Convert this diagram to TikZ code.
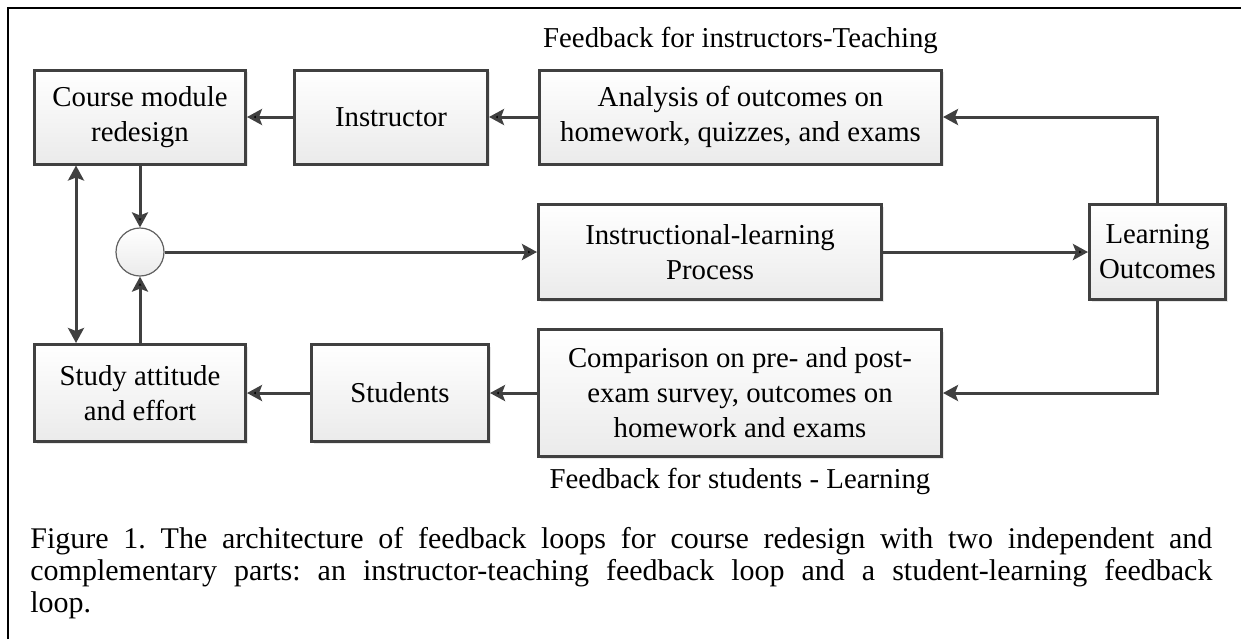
\documentclass[tikz,border=0pt]{standalone}
\usepackage{fontspec}
\setmainfont{Liberation Serif}
\usepackage{xcolor}
\usepackage{tikz}
\usetikzlibrary{shadows, arrows.meta, positioning}
\frenchspacing

\definecolor{linegray}{HTML}{404040}
\tikzset{
  block/.style={draw=linegray, line width=1.5pt, top color=white, bottom color=gray!16,
    align=center, inner sep=2pt,
    drop shadow={opacity=0.18, shadow xshift=1pt, shadow yshift=-1pt}},
  junction/.style={circle, draw=gray!75!black, line width=0.6pt, top color=white,
    bottom color=gray!16, minimum size=24pt, inner sep=0pt},
  flow/.style={draw=linegray, line width=1.5pt},
}

\begin{document}
\begin{tikzpicture}[x=0.5pt, y=-0.5pt, on grid, >={Stealth[length=7.5pt, width=8pt, inset=1.5pt]},
    font=\fontsize{14.4}{17.5}\selectfont]
  \useasboundingbox (0,0) rectangle (1241,639);
  \draw[line width=1pt] (8,639) -- (8,8) -- (1241,8);

  \node[block, minimum width=105.5pt, minimum height=47pt] (course) at (140,117) {Course module\\redesign};
  \node[block, minimum width=96.5pt, minimum height=47pt] (instr) [right=125.5pt of course] {Instructor};
  \node[block, minimum width=201pt, minimum height=47pt] (analysis) [right=174.75pt of instr] {Analysis of outcomes on\\homework, quizzes, and exams};
  \node (tlabel) [above=38.5pt of analysis] {Feedback for instructors-Teaching};

  \node[junction] (sum) [below=67.5pt of course] {};
  \node[block, minimum width=171.5pt, minimum height=47.5pt] (process) [right=285pt of sum] {Instructional-learning\\Process};
  \node[block, minimum width=68pt, minimum height=47.5pt] (outcome) [right=223.75pt of process] {Learning\\Outcomes};

  \node[block, minimum width=105.5pt, minimum height=48.5pt] (study) [below=70.5pt of sum] {Study attitude\\and effort};
  \node[block, minimum width=88.5pt, minimum height=48.5pt] (stud) [right=130pt of study] {Students};
  \node[block, minimum width=201.5pt, minimum height=63.5pt] (compare) [right=170pt of stud] {Comparison on pre- and post-\\exam survey, outcomes on\\homework and exams};
  \node (blabel) [below=44pt of compare] {Feedback for students - Learning};

  \path[flow, ->]
    (instr)    edge (course)
    (analysis) edge (instr)
    (course)   edge (sum)
    (study)    edge (sum)
    (sum)      edge (process)
    (process)  edge (outcome)
    (compare)  edge (stud)
    (stud)     edge (study);
  \draw[flow, ->] (outcome) |- (analysis);
  \draw[flow, ->] (outcome) |- (compare);
  \draw[flow, <->] ([xshift=-32pt]course.south) -- ([xshift=-32pt]study.north);

  \node[anchor=north west, inner sep=0pt, text width=591pt, align=justify,
    font=\fontsize{15}{16}\selectfont] (caption) at (30,527)
    {Figure 1. The architecture of feedback loops for course redesign with two independent and\linebreak
     complementary parts: an instructor-teaching feedback loop and a student-learning feedback\linebreak
     loop.};
\end{tikzpicture}
\end{document}
